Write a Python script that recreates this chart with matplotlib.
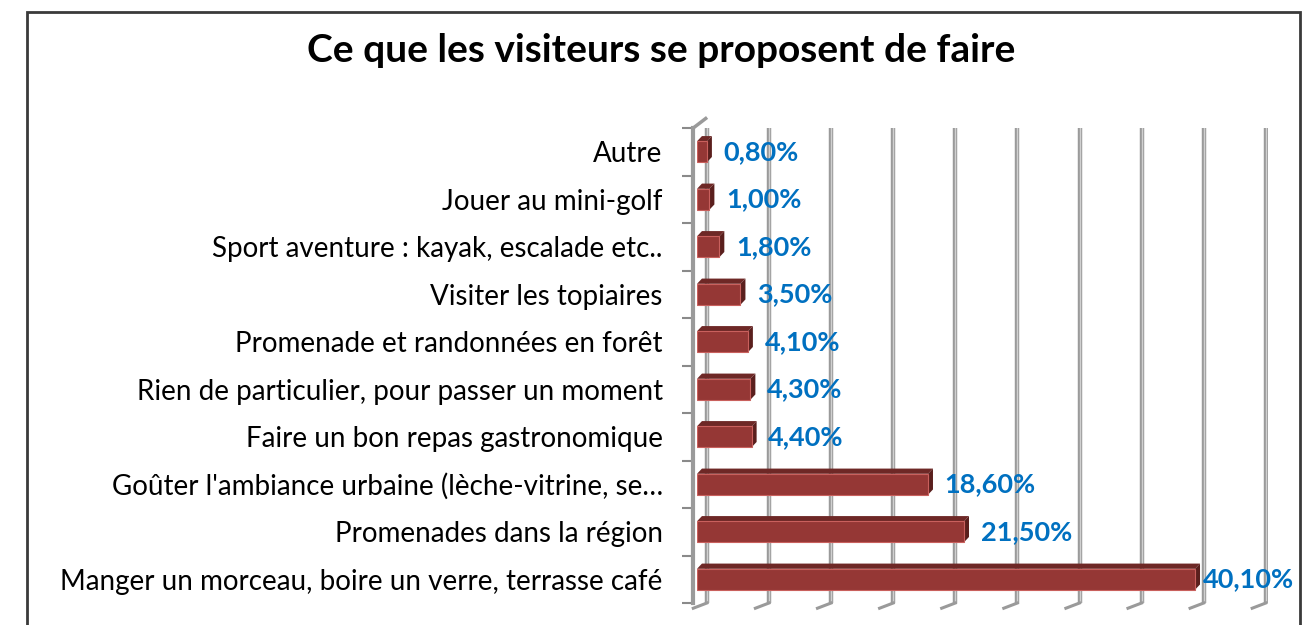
import matplotlib.pyplot as plt
from matplotlib.patches import Rectangle, Polygon

plt.rcParams['font.family'] = ['Lato', 'DejaVu Sans']

categories = [
    "Manger un morceau, boire un verre, terrasse café",
    "Promenades dans la région",
    "Goûter l'ambiance urbaine (lèche-vitrine, se…",
    "Faire un bon repas gastronomique",
    "Rien de particulier, pour passer un moment",
    "Promenade et randonnées en forêt",
    "Visiter les topiaires",
    "Sport aventure : kayak, escalade etc..",
    "Jouer au mini-golf",
    "Autre",
]
values = [40.1, 21.5, 18.6, 4.4, 4.3, 4.1, 3.5, 1.8, 1.0, 0.8]
labels = ["40,10%", "21,50%", "18,60%", "4,40%", "4,30%",
          "4,10%", "3,50%", "1,80%", "1,00%", "0,80%"]
grid_ticks = [0, 5, 10, 15, 20, 25, 30, 35, 40, 45]

fig = plt.figure(figsize=(13.13, 6.25), dpi=100)
# 12.42 px per percent, 0 at x=697
ax = fig.add_axes([697 / 1313, 1 - 603 / 625, 46 * 12.42 / 1313, (603 - 128) / 625])

# outer chart frame
fig.patches.append(Rectangle((27 / 1313, -0.05), (1300 - 27) / 1313, 1.05 - 12 / 625,
                             transform=fig.transFigure, fill=False,
                             edgecolor='#3a3a3a', linewidth=2))

fig.text(661 / 1313, 1 - 50 / 625, "Ce que les visiteurs se proposent de faire",
         ha='center', va='center', fontsize=28, fontweight='bold')

ax.set_xlim(0, 46)
ax.set_ylim(-0.5, len(categories) - 0.5)

# back-wall gridlines with a small floor stub
for g in grid_ticks:
    ax.axvline(g + 0.8, color='#9a9a9a', linewidth=3.2, zorder=1)
    ax.axvline(g + 0.8, color='#d0d0d0', linewidth=1.0, zorder=1)
    ax.plot([g + 0.8, g - 0.3], [-0.5, -0.61], color='#9a9a9a', linewidth=2.2,
            clip_on=False, zorder=1)

# 3D-looking bars: front face, top face, side face
h = 0.44
dx, dy = 0.4, 0.11
for i, v in enumerate(values):
    y0, y1 = i - h / 2, i + h / 2
    ax.add_patch(Polygon([(0, y1), (dx, y1 + dy), (v + dx, y1 + dy), (v, y1)],
                         closed=True, facecolor='#6e2826', edgecolor='none', zorder=3))
    ax.add_patch(Polygon([(v, y0), (v + dx, y0 + dy), (v + dx, y1 + dy), (v, y1)],
                         closed=True, facecolor='#5a1f1d', edgecolor='none', zorder=3))
    ax.add_patch(Rectangle((0, y0), v, h, facecolor='#953735',
                           edgecolor='#c9605d', linewidth=0.8, zorder=4))
    # labels stay inside the chart frame
    ax.text(min(v + 1.35, 40.75), i, labels[i], ha='left', va='center',
            color='#0070C0', fontsize=19.5, fontweight='bold', zorder=5)

ax.set_yticks(range(len(categories)))
ax.set_yticklabels(categories)
ax.set_yticks([i - 0.5 for i in range(len(categories) + 1)], minor=True)
ax.tick_params(axis='y', which='major', length=0, pad=22, labelsize=20)
ax.tick_params(axis='y', which='minor', length=8, width=1.5, color='#8a8a8a')
ax.set_xticks([])

for s in ['top', 'right', 'bottom']:
    ax.spines[s].set_visible(False)
ax.spines['left'].set_color('#9a9a9a')
ax.spines['left'].set_linewidth(3)
ax.spines['left'].set_position(('data', -0.3))
ax.spines['left'].set_bounds(-0.5, len(categories) - 0.5)
# slanted top of the left wall
ax.plot([-0.3, 0.7], [len(categories) - 0.5, len(categories) - 0.3],
        color='#9a9a9a', linewidth=2.5, clip_on=False)

fig.savefig('out.png', dpi=100)
